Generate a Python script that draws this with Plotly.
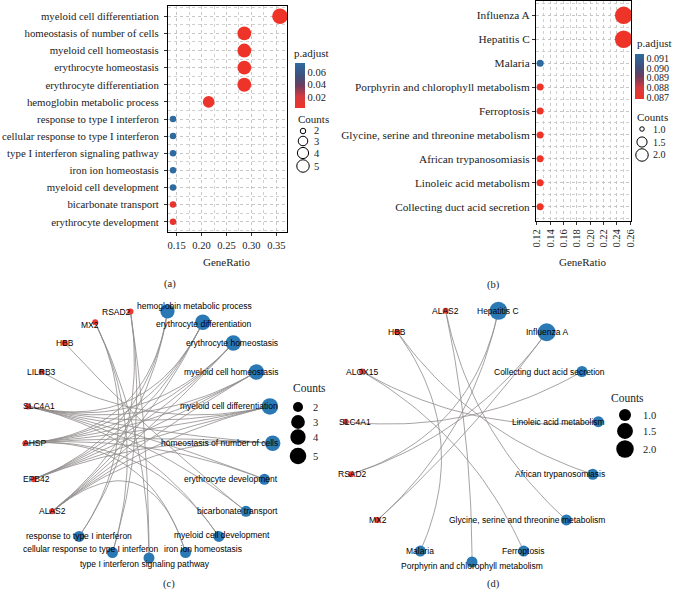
import math
import plotly.graph_objects as go

W, H = 674, 590

# ---------------- data ----------------
go_terms = ["myeloid cell differentiation", "homeostasis of number of cells", "myeloid cell homeostasis",
            "erythrocyte homeostasis", "erythrocyte differentiation", "hemoglobin metabolic process",
            "response to type I interferon", "cellular response to type I interferon",
            "type I interferon signaling pathway", "iron ion homeostasis", "myeloid cell development",
            "bicarbonate transport", "erythrocyte development"]
go_gene_ratio = ["5/14", "4/14", "4/14", "4/14", "4/14", "3/14", "2/14", "2/14", "2/14", "2/14", "2/14", "2/14", "2/14"]
go_counts = [5, 4, 4, 4, 4, 3, 2, 2, 2, 2, 2, 2, 2]
go_padj = [0.0024, 0.0024, 0.0024, 0.0024, 0.0024, 0.0045, 0.0744, 0.0744, 0.0744, 0.0744, 0.0744, 0.0080, 0.0080]
go_x_ticks = [0.15, 0.20, 0.25, 0.30, 0.35]
go_cbar_ticks = [0.02, 0.04, 0.06]
go_count_breaks = [2, 3, 4, 5]

kegg_terms = ["Influenza A", "Hepatitis C", "Malaria", "Porphyrin and chlorophyll metabolism", "Ferroptosis",
              "Glycine, serine and threonine metabolism", "African trypanosomiasis",
              "Linoleic acid metabolism", "Collecting duct acid secretion"]
kegg_gene_ratio = ["2/8", "2/8", "1/8", "1/8", "1/8", "1/8", "1/8", "1/8", "1/8"]
kegg_counts = [2, 2, 1, 1, 1, 1, 1, 1, 1]
kegg_padj = [0.0868, 0.0868, 0.0915, 0.0868, 0.0868, 0.0868, 0.0868, 0.0868, 0.0868]
kegg_x_ticks = [0.12, 0.14, 0.16, 0.18, 0.20, 0.22, 0.24, 0.26]
kegg_cbar_ticks = [0.087, 0.088, 0.089, 0.090, 0.091]
kegg_count_breaks = [1.0, 1.5, 2.0]

go_genes = ["RSAD2", "MX2", "HBB", "LILRB3", "SLC4A1", "AHSP", "EPB42", "ALAS2"]
go_term_genes = {
    "myeloid cell differentiation": ["ALAS2", "EPB42", "AHSP", "SLC4A1", "LILRB3"],
    "homeostasis of number of cells": ["ALAS2", "EPB42", "AHSP", "SLC4A1"],
    "myeloid cell homeostasis": ["ALAS2", "EPB42", "AHSP", "SLC4A1"],
    "erythrocyte homeostasis": ["ALAS2", "EPB42", "AHSP", "SLC4A1"],
    "erythrocyte differentiation": ["ALAS2", "EPB42", "AHSP", "SLC4A1"],
    "hemoglobin metabolic process": ["ALAS2", "AHSP", "EPB42"],
    "response to type I interferon": ["RSAD2", "MX2"],
    "cellular response to type I interferon": ["RSAD2", "MX2"],
    "type I interferon signaling pathway": ["RSAD2", "MX2"],
    "iron ion homeostasis": ["ALAS2", "AHSP"],
    "myeloid cell development": ["SLC4A1", "AHSP"],
    "bicarbonate transport": ["SLC4A1", "HBB"],
    "erythrocyte development": ["SLC4A1", "AHSP"],
}
go_net_order = go_genes + ["response to type I interferon", "cellular response to type I interferon",
                           "type I interferon signaling pathway", "iron ion homeostasis", "myeloid cell development",
                           "bicarbonate transport", "erythrocyte development", "homeostasis of number of cells",
                           "myeloid cell differentiation", "myeloid cell homeostasis", "erythrocyte homeostasis",
                           "erythrocyte differentiation", "hemoglobin metabolic process"]

kegg_genes = ["ALAS2", "HBB", "ALOX15", "SLC4A1", "RSAD2", "MX2"]
kegg_term_genes = {
    "Influenza A": ["RSAD2", "MX2"],
    "Hepatitis C": ["RSAD2", "MX2"],
    "Malaria": ["HBB"],
    "Porphyrin and chlorophyll metabolism": ["ALAS2"],
    "Ferroptosis": ["ALOX15"],
    "Glycine, serine and threonine metabolism": ["ALAS2"],
    "African trypanosomiasis": ["HBB"],
    "Linoleic acid metabolism": ["ALOX15"],
    "Collecting duct acid secretion": ["SLC4A1"],
}
kegg_net_order = kegg_genes + ["Malaria", "Porphyrin and chlorophyll metabolism", "Ferroptosis",
                               "Glycine, serine and threonine metabolism", "African trypanosomiasis",
                               "Linoleic acid metabolism", "Collecting duct acid secretion", "Influenza A", "Hepatitis C"]

# ---------------- styles ----------------
SERIF = "Liberation Serif"
SANS = "Liberation Sans"
RED = "#EA3A32"
BLUE_NODE = "#2A79B5"
GRID = "#C4C4C4"
COLORSCALE = [[0, "#EE3328"], [0.25, "#D63A3E"], [0.5, "#6E3C5F"], [0.7, "#3F4E7A"], [1, "#2D6BA0"]]


def px(x):
    return x / W


def py(y):
    return 1 - y / H


def ratio(s):
    a, b = s.split("/")
    return int(a) / int(b)


def size_scale(c, cmin, cmax, dmin, dmax):
    t = (c - cmin) / (cmax - cmin) if cmax > cmin else 0
    return dmin + (dmax - dmin) * math.sqrt(max(t, 0))


CW = {'i': .222, 'l': .222, 'j': .222, 'f': .278, 't': .278, 'r': .333, ' ': .278, 'c': .5, 's': .5, 'k': .5,
      'v': .5, 'x': .5, 'y': .5, 'z': .5, 'm': .833, 'w': .722, 'I': .278, 'C': .722, 'H': .722, 'M': .833,
      'L': .556, ',': .278, 'A': .667, 'G': .778}


def text_w(s, size):
    tot = 0
    for ch in s:
        if ch in CW:
            tot += CW[ch]
        elif ch.isupper():
            tot += .667
        else:
            tot += .556
    return tot * size


fig = go.Figure()
annotations = []
shapes = []

# ---------------- panel a: dot plot ----------------
na = len(go_terms)
ya = [na - i for i in range(na)]
fig.add_trace(go.Scatter(
    x=[ratio(r) for r in go_gene_ratio], y=ya, mode="markers", xaxis="x", yaxis="y",
    marker=dict(size=[size_scale(c, 2, 5, 6.5, 15.5) for c in go_counts], color=go_padj,
                colorscale=COLORSCALE, cmin=0.0024, cmax=0.0744, line=dict(width=0), opacity=1,
                showscale=True,
                colorbar=dict(x=px(295), xanchor="left", xpad=0, y=py(63), yanchor="top", ypad=0,
                              len=45, lenmode="pixels", thickness=10, thicknessmode="pixels",
                              tickvals=go_cbar_ticks, ticktext=["%.2f" % v for v in go_cbar_ticks],
                              ticks="", outlinewidth=0, tickfont=dict(family=SERIF, size=10.5, color="#222"))),
    showlegend=False, hoverinfo="skip"))

# ---------------- panel b: dot plot ----------------
nb = len(kegg_terms)
yb = [nb - i for i in range(nb)]
fig.add_trace(go.Scatter(
    x=[ratio(r) for r in kegg_gene_ratio], y=yb, mode="markers", xaxis="x2", yaxis="y2",
    marker=dict(size=[size_scale(c, 1, 2, 7, 17.5) for c in kegg_counts], color=kegg_padj,
                colorscale=COLORSCALE, cmin=0.0868, cmax=0.0915, line=dict(width=0), opacity=1,
                showscale=True,
                colorbar=dict(x=px(635), xanchor="left", xpad=0, y=py(54), yanchor="top", ypad=0,
                              len=45, lenmode="pixels", thickness=9, thicknessmode="pixels",
                              tickvals=kegg_cbar_ticks, ticktext=["%.3f" % v for v in kegg_cbar_ticks],
                              ticks="", outlinewidth=0, tickfont=dict(family=SERIF, size=10, color="#222"))),
    showlegend=False, hoverinfo="skip"))


# ---------------- networks ----------------
def network(order, genes, term_genes, terms, counts, start_deg, cx, cy, r, xa, ya_, cmin, cmax, dmin, dmax,
            bounds, shifts, fsize):
    n = len(order)
    pos = {}
    for i, name in enumerate(order):
        a = math.radians(start_deg + i * 360.0 / n)
        pos[name] = (math.cos(a), math.sin(a))
    ex, ey = [], []
    for t in terms:
        for g in term_genes[t]:
            (x0, y0), (x2, y2) = pos[g], pos[t]
            for k in range(31):
                s = k / 30
                ex.append((1 - s) ** 2 * x0 + s * s * x2)
                ey.append((1 - s) ** 2 * y0 + s * s * y2)
            ex.append(None)
            ey.append(None)
    fig.add_trace(go.Scatter(x=ex, y=ey, mode="lines", xaxis=xa, yaxis=ya_,
                             line=dict(color="rgba(145,140,140,0.8)", width=1),
                             showlegend=False, hoverinfo="skip"))
    fig.add_trace(go.Scatter(x=[pos[g][0] for g in genes], y=[pos[g][1] for g in genes], mode="markers",
                             xaxis=xa, yaxis=ya_, marker=dict(size=6, color=RED, opacity=1, line=dict(width=0)),
                             showlegend=False, hoverinfo="skip", cliponaxis=False))
    fig.add_trace(go.Scatter(x=[pos[t][0] for t in terms], y=[pos[t][1] for t in terms], mode="markers",
                             xaxis=xa, yaxis=ya_,
                             marker=dict(size=[size_scale(c, cmin, cmax, dmin, dmax) for c in counts],
                                         color=BLUE_NODE, opacity=1, line=dict(width=0)),
                             showlegend=False, hoverinfo="skip", cliponaxis=False))
    for name in order:
        nx, ny = pos[name]
        npx = cx + r * nx
        dx, dy = shifts.get(name, (0, 0))
        w = text_w(name, fsize)
        c = npx + dx
        c = min(c, bounds[1] - w / 2)
        c = max(c, bounds[0] + w / 2)
        annotations.append(dict(x=nx, y=ny, xref=xa, yref=ya_, text=name, showarrow=False,
                                xshift=c - npx, yshift=-dy, xanchor="center", yanchor="middle",
                                font=dict(family=SANS, size=fsize, color="black")))


# panel c geometry (pixels)
c_cx, c_cy, c_r = 149, 434, 124
c_dom_x, c_dom_y = (5, 293), (292, 580)
network(go_net_order, go_genes, go_term_genes, go_terms, go_counts, 270 - 10 * 360 / 21,
        c_cx, c_cy, c_r, "x3", "y3", 2, 5, 11, 16.5, (23, 278),
        {"RSAD2": (-14, 1), "MX2": (-5, 3), "hemoglobin metabolic process": (27, -5),
         "erythrocyte differentiation": (1, 2), "iron ion homeostasis": (17, -3),
         "cellular response to type I interferon": (-24, -3), "type I interferon signaling pathway": (-4, 6),
         "myeloid cell development": (3, -1)}, 8.5)

# panel d geometry (pixels)
d_cx, d_cy, d_r = 472, 435, 127
d_dom_x, d_dom_y = (332, 620), (292, 580)
network(kegg_net_order, kegg_genes, kegg_term_genes, kegg_terms, kegg_counts, 270 - 7 * 24,
        d_cx, d_cy, d_r, "x4", "y4", 1, 2, 11, 18, (339, 605),
        {"Porphyrin and chlorophyll metabolism": (0, 4)}, 8.5)


def net_axes(cx, cy, r, dx, dy):
    xr = [(dx[0] - cx) / r, (dx[1] - cx) / r]
    yr = [(cy - dy[1]) / r, (cy - dy[0]) / r]
    xa = dict(domain=[px(dx[0]), px(dx[1])], range=xr, visible=False, fixedrange=True, automargin=False)
    ya = dict(domain=[py(dy[1]), py(dy[0])], range=yr, visible=False, fixedrange=True, automargin=False)
    return xa, ya


x3, y3 = net_axes(c_cx, c_cy, c_r, c_dom_x, c_dom_y)
x4, y4 = net_axes(d_cx, d_cy, d_r, d_dom_x, d_dom_y)
x3["anchor"] = "y3"; y3["anchor"] = "x3"
x4["anchor"] = "y4"; y4["anchor"] = "x4"

# ---------------- axes for dot plots ----------------
tickfont = dict(family=SERIF, size=10.5, color="#222")
common_x = dict(showline=True, mirror=True, linecolor="black", linewidth=1, ticks="outside", ticklen=3,
                tickcolor="#333", showgrid=True, gridcolor=GRID, griddash="dot", gridwidth=0.8,
                zeroline=False, tickfont=tickfont, fixedrange=True, automargin=False)
xaxis = dict(common_x, domain=[px(168), px(287)], range=[0.1328, 0.3713], anchor="y",
             tickmode="array", tickvals=go_x_ticks, ticktext=["%.2f" % v for v in go_x_ticks],
             minor=dict(dtick=0.025, tick0=0.125, showgrid=True, gridcolor=GRID, griddash="dot", gridwidth=0.8))
yaxis = dict(common_x, domain=[py(232), py(6)], range=[0.4, na + 0.6], anchor="x",
             tickmode="array", tickvals=ya, ticktext=go_terms, tickfont=dict(family=SERIF, size=10.8, color="#222"),
             ticklabelstandoff=3,
             minor=dict(dtick=0.5, tick0=0, showgrid=True, gridcolor=GRID, griddash="dot", gridwidth=0.8))
xaxis2 = dict(common_x, domain=[px(536), px(631)], range=[0.1188, 0.2610], anchor="y2",
              tickmode="array", tickvals=kegg_x_ticks, ticktext=["%.2f" % v for v in kegg_x_ticks], tickangle=-90,
              minor=dict(dtick=0.01, tick0=0.12, showgrid=True, gridcolor=GRID, griddash="dot", gridwidth=0.8))
yaxis2 = dict(common_x, domain=[py(221), py(1)], range=[0.4, nb + 0.6], anchor="x2",
              tickmode="array", tickvals=yb, ticktext=kegg_terms, tickfont=dict(family=SERIF, size=11.3, color="#222"),
              minor=dict(dtick=0.5, tick0=0, showgrid=True, gridcolor=GRID, griddash="dot", gridwidth=0.8))


# ---------------- legends / titles ----------------
def label(x, y, text, size=10, anchor="left", fam=SERIF, color="#222"):
    annotations.append(dict(x=px(x), y=py(y), xref="paper", yref="paper", text=text, showarrow=False,
                            xanchor=anchor, yanchor="middle", font=dict(family=fam, size=size, color=color)))


def circle(x, y, d, fill, line):
    shapes.append(dict(type="circle", xref="paper", yref="paper", xsizemode="pixel", ysizemode="pixel",
                       xanchor=px(x), yanchor=py(y), x0=-d / 2, x1=d / 2, y0=-d / 2, y1=d / 2,
                       fillcolor=fill, line=line))


# panel a legends
label(292, 53, "p.adjust", 11)
label(296, 119, "Counts", 11)
for yy, b in zip([131, 141, 153, 166], go_count_breaks):
    circle(303, yy, size_scale(b, 2, 5, 5.5, 12.5), "rgba(0,0,0,0)", dict(color="black", width=1))
    label(312, yy, str(b), 10.5)

# panel b legends
label(635, 43, "p.adjust", 11)
label(635, 117, "Counts", 11)
for yy, b in zip([129, 142, 155], kegg_count_breaks):
    circle(642, yy, size_scale(b, 1, 2, 4.5, 12.5), "rgba(0,0,0,0)", dict(color="black", width=1))
    label(651, yy, "%.1f" % b, 10)

# panel c legend
label(291, 388, "Counts", 11.5)
for yy, b in zip([407, 422, 437, 456], go_count_breaks):
    circle(298, yy, size_scale(b, 2, 5, 10, 16.5), "black", dict(width=0))
    label(311, yy, str(b), 10.5)

# panel d legend
label(609, 398, "Counts", 11.5)
for yy, b in zip([415, 431, 449], kegg_count_breaks):
    circle(625, yy, size_scale(b, 1, 2, 12, 17.5), "black", dict(width=0))
    label(641, yy, "%.1f" % b, 10.5)

# axis titles & captions
label(227, 262, "GeneRatio", 11, "center")
label(583, 262, "GeneRatio", 11, "center")
label(170, 284, "(a)", 10.5, "center")
label(493, 285, "(b)", 10.5, "center")
label(169, 584, "(c)", 10.5, "center")
label(493, 584, "(d)", 10.5, "center")

fig.update_layout(
    width=W, height=H, autosize=False, margin=dict(l=0, r=0, t=0, b=0, pad=0, autoexpand=False),
    paper_bgcolor="white", plot_bgcolor="white",
    xaxis=xaxis, yaxis=yaxis, xaxis2=xaxis2, yaxis2=yaxis2,
    xaxis3=x3, yaxis3=y3, xaxis4=x4, yaxis4=y4,
    annotations=annotations, shapes=shapes, showlegend=False,
)

fig.write_html("out.html", config={"displayModeBar": False, "staticPlot": True},
               post_script="document.body.style.margin='0px';document.body.style.overflow='hidden';")
